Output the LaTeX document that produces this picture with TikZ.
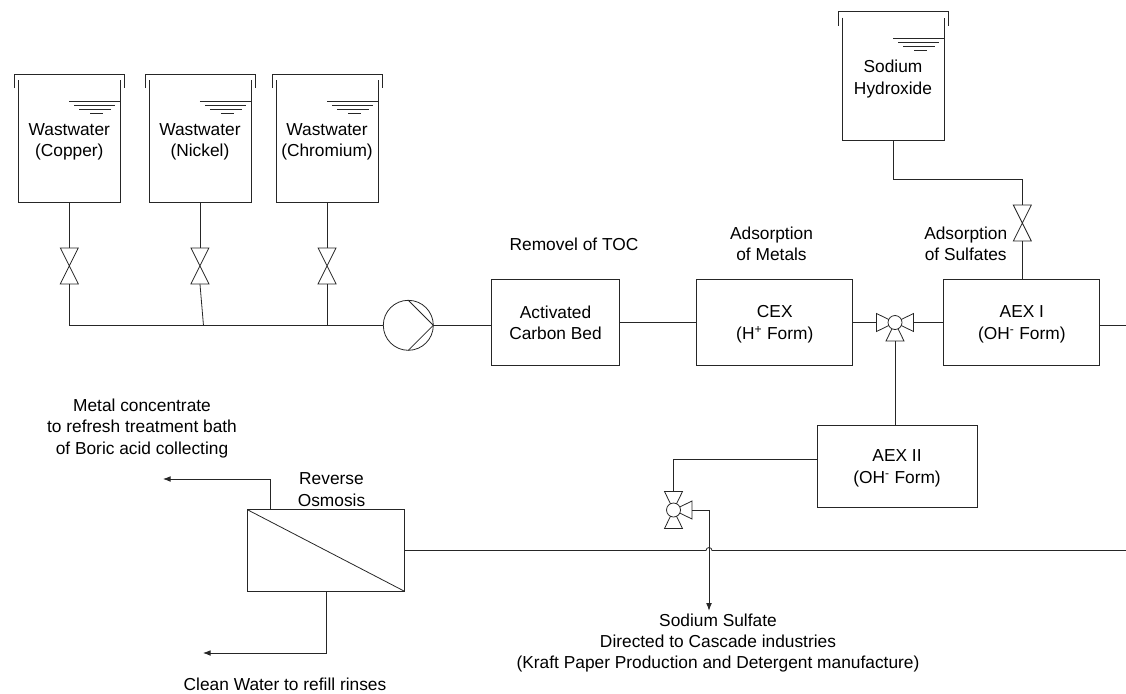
\documentclass[tikz,border=0pt]{standalone}
\usepackage{fontspec}
\setmainfont{Liberation Sans}
\usepackage{xcolor}
\usetikzlibrary{arrows.meta,positioning,calc}

\tikzset{
  tankbox/.style={minimum width=76.5pt, minimum height=92pt, inner sep=0pt, outer sep=0pt, align=center},
  valvebox/.style={minimum width=13.5pt, minimum height=27pt, inner sep=0pt, outer sep=0pt},
  hub/.style={circle, draw, fill=white, minimum size=10.5pt, inner sep=0pt, outer sep=0pt},
  procbox/.style={draw, minimum height=65pt, inner sep=0pt, outer sep=0pt, align=center, text depth=0pt},
  label/.style={align=center, inner sep=0pt}
}

% open tank with lid and liquid level
\newcommand{\tank}[3]{
  \node[tankbox,#2] (#1) {#3};
  \draw (#1.north west) -- (#1.south west) -- (#1.south east) -- (#1.north east);
  \draw ($(#1.north west)+(-4,8)$) -- ($(#1.north west)+(-4,-6)$) -- ($(#1.north east)+(4,-6)$) -- ($(#1.north east)+(4,8)$);
  \draw ($(#1.north east)+(-51,21)$) -- ($(#1.north east)+(0,21)$);
  \draw ($(#1.north east)+(-46,25)$) -- ($(#1.north east)+(-5,25)$);
  \draw ($(#1.north east)+(-41,29)$) -- ($(#1.north east)+(-9,29)$);
  \draw ($(#1.north east)+(-30,33)$) -- ($(#1.north east)+(-17,33)$);
}
% two-way valve
\newcommand{\valve}[2]{
  \node[valvebox,#2] (#1) {};
  \draw (#1.north west) -- (#1.south east) -- (#1.south west) -- (#1.north east) -- cycle;
}
% three-way valve, one arm per angle
\newcommand{\threeway}[3]{
  \coordinate (#1c) at (#2);
  \foreach \a in {#3} {
    \coordinate (#1-\a) at ($(#1c)+(\a:18.5)$);
    \draw ($(#1c)$) -- ($(#1-\a)+(\a+90:9)$) -- ($(#1-\a)+(\a-90:9)$) -- cycle;
  }
  \node[hub] (#1) at (#1c) {};
}

\begin{document}
\begin{tikzpicture}[x=0.75pt,y=-0.75pt,>=Latex, line width=0.6pt, draw=black!85,
  every node/.style={font=\fontsize{13}{16}\selectfont}]
\useasboundingbox (0,0) rectangle (1126,693);

% tanks
\tank{tcu}{at={(69.3,141.5)}}{Wastwater\\(Copper)}
\tank{tni}{right=21.5pt of tcu}{Wastwater\\(Nickel)}
\tank{tcr}{right=18.8pt of tni}{Wastwater\\(Chromium)}
\tank{tna}{at={(893,79)}}{Sodium\\Hydroxide}

% feed valves and header
\valve{vcu}{below=33.8pt of tcu}
\valve{vni}{below=33.8pt of tni}
\valve{vcr}{below=33.8pt of tcr}
\node[circle, draw, minimum size=37.5pt, inner sep=0pt, outer sep=0pt] (pump) at (408.3,325.3) {};
\draw (pump.north) -- (pump.east) -- (pump.south);
\coordinate (jni) at ($(vni.south |- pump.west)+(3.5,0)$);
\draw (tcu) -- (vcu);
\draw (tni) -- (vni);
\draw (tcr) -- (vcr);
\draw (vcu.south) |- (pump.west);
\draw (vni.south) -- (jni);
\draw (vcr.south) -- (vcr.south |- pump.west);

% process line
\node[procbox, minimum width=96.5pt] (acb) at (555.5,322.5) {Activated\\Carbon Bed};
\node[procbox, minimum width=117pt, right=57.7pt of acb] (cex) {CEX\\(H\textsuperscript{+} Form)};
\node[procbox, minimum width=117pt, right=68.3pt of cex] (aexa) {AEX I\\(OH\textsuperscript{-} Form)};
\node[procbox, minimum width=120pt, minimum height=61pt] (aexb) at (897,466.5) {AEX II\\(OH\textsuperscript{-} Form)};
\node[draw, minimum width=117.5pt, minimum height=61pt, inner sep=0pt, outer sep=0pt] (ro) at (326,550.5) {};
\draw (ro.north west) -- (ro.south east);
\threeway{tva}{895,322.5}{0,90,180}
\threeway{tvb}{673.5,510}{0,90,270}
\draw (pump.east) -- (acb.west |- pump.east);
\draw (acb) -- (cex);
\draw (cex.east) -- (tva-180);
\draw (tva-0) -- (aexa.west |- tva-0);
\draw (tva-90) -- (tva-90 |- aexb.north);
\coordinate (endr) at (1126,325);
\draw (aexa.east |- endr) -- (endr);

% caustic feed
\valve{vna}{at={(1022.3,223)}}
\draw (tna.south) |- ($(vna.north)+(0,-26)$) -- (vna.north);
\draw (vna.south) -- (vna.south |- aexa.north);

% outlets
\coordinate (outm) at (163,479);
\coordinate (outw) at (203,653);
\coordinate (outs) at (709,610.7);
\coordinate (endb) at (1126,550.5);
\coordinate (hop) at (outs |- ro.east);
\draw (aexb.west |- 0,459) -| (tvb-270);
\draw (tvb-0) -| (hop);
\draw[->] (tvb-0 -| hop) -- (outs);
\draw[->] (ro.north -| 270.5,0) |- (outm);
\draw[->] (ro.south) |- (outw);
\draw (ro.east) -- ($(hop)+(-3,0)$) arc (180:360:3) -- (endb);

% labels
\node[label] (ltoc) at (574,244) {Removel of TOC};
\node[label] (lmet) at (771.5,243.5) {Adsorption\\of Metals};
\node[label] (lsul) at (965.7,243.5) {Adsorption\\of Sulfates};
\node[label] (lcon) at (142,428.5) {Metal concentrate\\to refresh treatment bath\\of Boric acid collecting};
\node[label] (lro) at (331.5,489.5) {Reverse\\Osmosis};
\node[label] (lcw) at (285,684.5) {Clean Water to refill rinses};
\node[label] (lsod) at (718,643) {Sodium Sulfate\\Directed to Cascade industries\\(Kraft Paper Production and Detergent manufacture)};
\end{tikzpicture}
\end{document}
